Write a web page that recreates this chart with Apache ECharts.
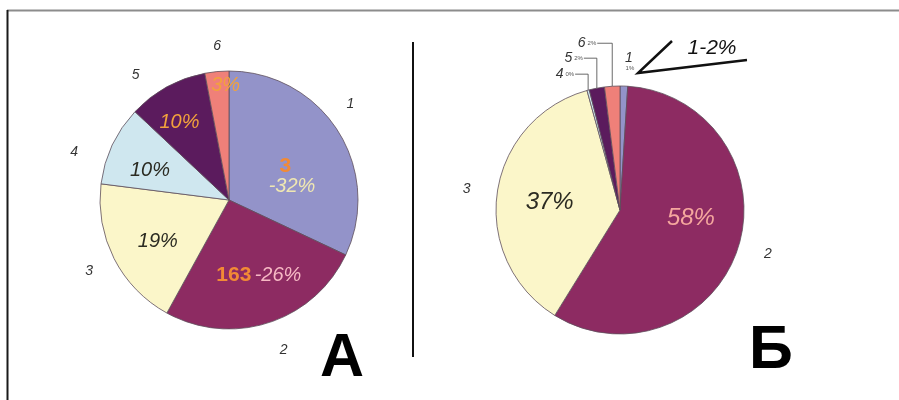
<!DOCTYPE html>
<html>
<head>
<meta charset="utf-8">
<script src="https://cdn.jsdelivr.net/npm/echarts@6/dist/echarts.min.js"></script>
<style>
  html, body { margin: 0; padding: 0; background: #fff; }
  #chart { width: 899px; height: 400px; }
</style>
</head>
<body>
<div id="chart"></div>
<script>
// slice names and colours, shared by both pies
var names = ["1", "2", "3", "4", "5", "6"];
var colors = ["#9393c9", "#8d2b62", "#fbf6c9", "#cfe7ef", "#5b1b5d", "#ef8079"];

// pie A
var valuesA = [32, 26, 19, 10, 10, 3];
var textA = ["{o|3}    \n{w|-32%}", "{o|163} {p|-26%}", "{d|19%}", "{d|10%}", "{y|10%}", "{y|3%}"];
var nudgeA = [[6, 12], [9, 11], [-11, 11], [-18, -1], [-17, -18], [3, -47]];
// outer number labels: angle shift (deg) from slice middle, distance from centre
var outShiftA = [-6, -2, 0, -8, -8, 1];
var outDistA = [155, 160, 157, 162, 156, 154];

// pie Б
var valuesB = [1, 58, 37, 0.3, 2, 2];
var textB = ["", "{p|58%}", "{d|37%}", "", "", ""];
var pctB = ["1%", "58%", "37%", "0%", "2%", "2%"];
var nudgeB = [[0, 0], [9, -11], [-6, 2], [0, 0], [0, 0], [0, 0]];
var riseB = [0, 0, 0, 16, 30, 43];
var gapB = [0, 0, 0, 14, 14, 16];

var FONT = "Liberation Sans";

var richIn = {
  o: { color: "#f28a35", fontWeight: "bold", fontSize: 21, fontFamily: FONT },
  w: { color: "#efe7b2", fontStyle: "italic", fontSize: 20, fontFamily: FONT },
  p: { color: "#f6b9c4", fontStyle: "italic", fontSize: 20, fontFamily: FONT },
  d: { color: "#2b2b22", fontStyle: "italic", fontSize: 20, fontFamily: FONT },
  y: { color: "#f2a23c", fontStyle: "italic", fontSize: 20, fontFamily: FONT },
};
var richInB = {
  p: { color: "#f5a79e", fontStyle: "italic", fontSize: 24, fontFamily: FONT },
  d: { color: "#2b2b22", fontStyle: "italic", fontSize: 24, fontFamily: FONT },
};
var richOut = {
  n: { color: "#333", fontStyle: "italic", fontSize: 14, fontFamily: FONT },
  s: { color: "#555", fontSize: 6, fontFamily: FONT, padding: [0, 0, 0, 2] },
};

function sliceData(values, texts) {
  var out = [];
  values.forEach(function (v, i) {
    out.push({
      name: names[i],
      value: v,
      itemStyle: { color: colors[i] },
      label: { formatter: texts[i] },
    });
  });
  return out;
}

// middle angle of every slice, clockwise from 12 o'clock
function midAngles(values) {
  var total = 0;
  values.forEach(function (v) { total += v; });
  var acc = 0;
  var mids = [];
  values.forEach(function (v) {
    mids.push(((acc + v / 2) / total) * 360);
    acc += v;
  });
  return mids;
}
var midA = midAngles(valuesA);

function outerDataA() {
  var out = [];
  valuesA.forEach(function (v, i) {
    out.push({ name: names[i], value: v });
  });
  return out;
}

function outerDataB() {
  var out = [];
  valuesB.forEach(function (v, i) {
    var txt;
    if (i == 0) {
      txt = "{n|" + names[i] + "}\n{s|" + pctB[i] + "}";
    } else if (i >= 3) {
      txt = "{n|" + names[i] + "}{s|" + pctB[i] + "}";
    } else {
      txt = "{n|" + names[i] + "}";
    }
    out.push({
      name: names[i],
      value: v,
      label: { formatter: txt },
      labelLine: { show: i >= 3 },
    });
  });
  return out;
}

var chart = echarts.init(document.getElementById("chart"));

var sliceBorder = { borderColor: "#5e4f5c", borderWidth: 0.8 };
var ghost = { color: "rgba(0,0,0,0)", borderWidth: 0 };
var centerA = [229, 200];

option = {
  animation: false,
  graphic: [
    { type: "line", shape: { x1: 7, y1: 10.5, x2: 899, y2: 10.5 }, style: { stroke: "#8c8c8c", lineWidth: 2 } },
    { type: "line", shape: { x1: 7.5, y1: 10, x2: 7.5, y2: 400 }, style: { stroke: "#1a1a1a", lineWidth: 2 } },
    { type: "line", shape: { x1: 413, y1: 42, x2: 413, y2: 357 }, style: { stroke: "#111", lineWidth: 2 } },
    {
      type: "text",
      style: { text: "А", x: 342, y: 359, align: "center", verticalAlign: "middle", fontSize: 61, fontWeight: "bold", fontFamily: FONT, fill: "#000" },
    },
    {
      type: "text",
      style: { text: "Б", x: 771, y: 351, align: "center", verticalAlign: "middle", fontSize: 61, fontWeight: "bold", fontFamily: FONT, fill: "#000" },
    },
    {
      type: "polyline",
      shape: { points: [[672, 41], [638, 73], [747, 60]] },
      style: { stroke: "#111", lineWidth: 2.5, fill: null },
    },
    {
      type: "text",
      style: { text: "1-2%", x: 712, y: 48, align: "center", verticalAlign: "middle", fontSize: 21, fontStyle: "italic", fontFamily: FONT, fill: "#111" },
    },
  ],
  series: [
    {
      type: "pie",
      center: centerA,
      radius: 129,
      startAngle: 90,
      silent: true,
      itemStyle: sliceBorder,
      label: { position: "inside", rich: richIn },
      labelLayout: function (p) {
        return { dx: nudgeA[p.dataIndex][0], dy: nudgeA[p.dataIndex][1] };
      },
      data: sliceData(valuesA, textA),
    },
    {
      type: "pie",
      center: centerA,
      radius: 129,
      startAngle: 90,
      silent: true,
      avoidLabelOverlap: false,
      itemStyle: ghost,
      label: { position: "outside", formatter: "{n|{b}}", rich: richOut },
      labelLine: { show: false, length: 16, length2: 0 },
      labelLayout: function (p) {
        var i = p.dataIndex;
        var a = ((midA[i] + outShiftA[i]) * Math.PI) / 180;
        return {
          x: centerA[0] + outDistA[i] * Math.sin(a),
          y: centerA[1] - outDistA[i] * Math.cos(a),
          align: "center",
          verticalAlign: "middle",
        };
      },
      data: outerDataA(),
    },
    {
      type: "pie",
      center: [620, 210],
      radius: 124,
      startAngle: 90,
      silent: true,
      itemStyle: sliceBorder,
      label: { position: "inside", rich: richInB },
      labelLayout: function (p) {
        return { dx: nudgeB[p.dataIndex][0], dy: nudgeB[p.dataIndex][1] };
      },
      data: sliceData(valuesB, textB),
    },
    {
      type: "pie",
      center: [620, 210],
      radius: 124,
      startAngle: 90,
      silent: true,
      avoidLabelOverlap: false,
      itemStyle: ghost,
      label: { position: "outside", rich: richOut },
      labelLine: { length: 22, length2: 0, lineStyle: { color: "#444", width: 0.8 } },
      labelLayout: function (p) {
        var i = p.dataIndex;
        if (i == 0) {
          return { x: p.rect.x + p.rect.width / 2 + 5, y: p.rect.y - 25, align: "center", verticalAlign: "middle" };
        }
        if (i >= 3 && p.labelLinePoints) {
          var p0 = p.labelLinePoints[0];
          var ly = p0[1] - riseB[i];
          var lx = p0[0] - gapB[i];
          return {
            x: lx,
            y: ly,
            align: "right",
            verticalAlign: "middle",
            labelLinePoints: [[p0[0], p0[1]], [p0[0], ly], [lx + 1, ly]],
          };
        }
        return {};
      },
      data: outerDataB(),
    },
  ],
};
chart.setOption(option);
</script>
</body>
</html>
